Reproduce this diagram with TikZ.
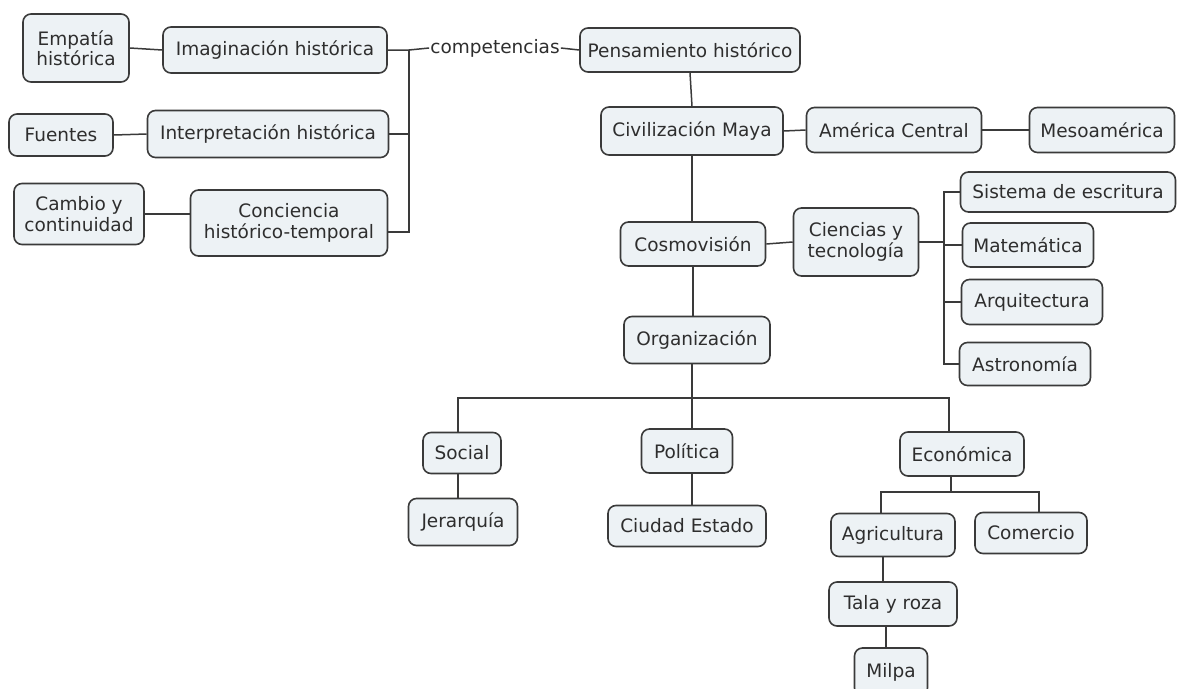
\documentclass[tikz,border=0pt]{standalone}
\usepackage{fontspec}
\setmainfont{DejaVu Sans}
\definecolor{boxfill}{HTML}{EDF2F5}
\definecolor{boxline}{HTML}{3A3A3A}
\begin{document}
\begin{tikzpicture}[x=1pt,y=-1pt,
  concept/.style={draw=boxline, fill=boxfill, line width=1.6pt, rounded corners=8pt,
    inner sep=0pt, align=center, font=\fontsize{18.5}{20.5}\selectfont, text=black!82},
  link/.style={draw=boxline, line width=1.5pt},
  plain/.style={inner sep=1pt, font=\fontsize{18.5}{20.5}\selectfont, text=black!82}]
\useasboundingbox (0,0) rectangle (1177,688);
\begin{scope}
\clip (0,0) rectangle (1177,688);

% left column: competencies of historical thinking
\node[concept, minimum width=106pt, minimum height=68pt] (emp) at (76,48) {Empatía\\histórica};
\node[concept, minimum width=224pt, minimum height=46pt] (imag) at (275,50) {Imaginación histórica};
\node[concept, minimum width=104pt, minimum height=42pt] (fue) at (61,135) {Fuentes};
\node[concept, minimum width=241pt, minimum height=47pt] (interp) at (268,134) {Interpretación histórica};
\node[concept, minimum width=130pt, minimum height=61pt] (cam) at (79,214) {Cambio y\\continuidad};
\node[concept, minimum width=197pt, minimum height=66pt] (conc) at (289,223) {Conciencia\\histórico-temporal};
\node[plain] (comp) at (495,48) {competencias};

% main spine
\node[concept, minimum width=220pt, minimum height=44pt] (pens) at (690,50) {Pensamiento histórico};
\node[concept, minimum width=182pt, minimum height=48pt] (civ) at (692,131) {Civilización Maya};
\node[concept, minimum width=175pt, minimum height=45pt] (amc) at (894,130) {América Central};
\node[concept, minimum width=145pt, minimum height=45pt] (meso) at (1102,130) {Mesoamérica};
\node[concept, minimum width=145pt, minimum height=44pt] (cosmo) at (693,244) {Cosmovisión};
\node[concept, minimum width=125pt, minimum height=68pt] (cien) at (856,242) {Ciencias y\\tecnología};
\node[concept, minimum width=215pt, minimum height=40pt] (sis) at (1068,192) {Sistema de escritura};
\node[concept, minimum width=131pt, minimum height=44pt] (mat) at (1028,245) {Matemática};
\node[concept, minimum width=141pt, minimum height=45pt] (arq) at (1032,302) {Arquitectura};
\node[concept, minimum width=131pt, minimum height=43pt] (ast) at (1025,364) {Astronomía};
\node[concept, minimum width=146pt, minimum height=47pt] (org) at (697,340) {Organización};

% organisation branches
\node[concept, minimum width=78pt, minimum height=41pt] (soc) at (462,453) {Social};
\node[concept, minimum width=109pt, minimum height=47pt] (jer) at (463,522) {Jerarquía};
\node[concept, minimum width=91pt, minimum height=44pt] (pol) at (687,451) {Política};
\node[concept, minimum width=158pt, minimum height=41pt] (ciu) at (687,526) {Ciudad Estado};
\node[concept, minimum width=124pt, minimum height=44pt] (eco) at (962,454) {Económica};
\node[concept, minimum width=124pt, minimum height=43pt] (agr) at (893,535) {Agricultura};
\node[concept, minimum width=112pt, minimum height=41pt] (com) at (1031,533) {Comercio};
\node[concept, minimum width=128pt, minimum height=44pt] (tala) at (893,604) {Tala y roza};
\node[concept, minimum width=73pt, minimum height=48pt] (milpa) at (891,672) {Milpa};

% junction points of the bracket connectors
\coordinate (lbus) at (409,0);
\coordinate (cbus) at (944,0);
\coordinate (obus) at (0,398);
\coordinate (ebus) at (0,492);
\coordinate (ecotop) at ([xshift=-13pt]eco.north);
\coordinate (ecobot) at ([xshift=-11pt]eco.south);
\coordinate (agrtop) at ([xshift=-12pt]agr.north);
\coordinate (comtop) at ([xshift=8pt]com.north);

% left bracket
\draw[link] (emp.east) -- (imag.west);
\draw[link] (fue.east) -- (interp.west);
\draw[link] (cam.east) -- (cam.east -| conc.west);
\draw[link] (imag.east) -- (imag.east -| lbus) -- (comp.west);
\draw[link] (interp.east) -- (interp.east -| lbus);
\draw[link] ([yshift=-9pt]conc.east) -- ([yshift=-9pt]conc.east -| lbus) -- (imag.east -| lbus);
\draw[link] (comp.east) -- (pens.west);

% spine
\draw[link] (pens.south) -- (civ.north);
\draw[link] (civ.east) -- (amc.west);
\draw[link] (amc.east) -- (meso.west);
\draw[link] (civ.south) -- (civ.south |- cosmo.north);
\draw[link] (cosmo.east) -- (cien.west);
\draw[link] (cosmo.south) -- (cosmo.south |- org.north);

% sciences bracket
\draw[link] (cien.east) -- (cien.east -| cbus);
\draw[link] (sis.west) -- (sis.west -| cbus) -- (ast.west -| cbus) -- (ast.west);
\draw[link] (mat.west) -- (mat.west -| cbus);
\draw[link] (arq.west) -- (arq.west -| cbus);

% organisation bracket
\draw[link] ([xshift=-5pt]org.south) -- ([xshift=-5pt]org.south |- pol.north);
\draw[link] ([xshift=-4pt]soc.north) -- ([xshift=-4pt]soc.north |- obus) -- (obus -| ecotop) -- (ecotop);
\draw[link] ([xshift=-4pt]soc.south) -- ([xshift=-4pt]soc.south |- jer.north);
\draw[link] ([xshift=5pt]pol.south) -- ([xshift=5pt]pol.south |- ciu.north);

% economy bracket
\draw[link] (ecobot) -- (ecobot |- ebus);
\draw[link] (agrtop) -- (agrtop |- ebus) -- (ebus -| comtop) -- (comtop);
\draw[link] ([xshift=-10pt]agr.south) -- ([xshift=-10pt]agr.south |- tala.north);
\draw[link] ([xshift=-7pt]tala.south) -- ([xshift=-7pt]tala.south |- milpa.north);
\end{scope}
\end{tikzpicture}
\end{document}
